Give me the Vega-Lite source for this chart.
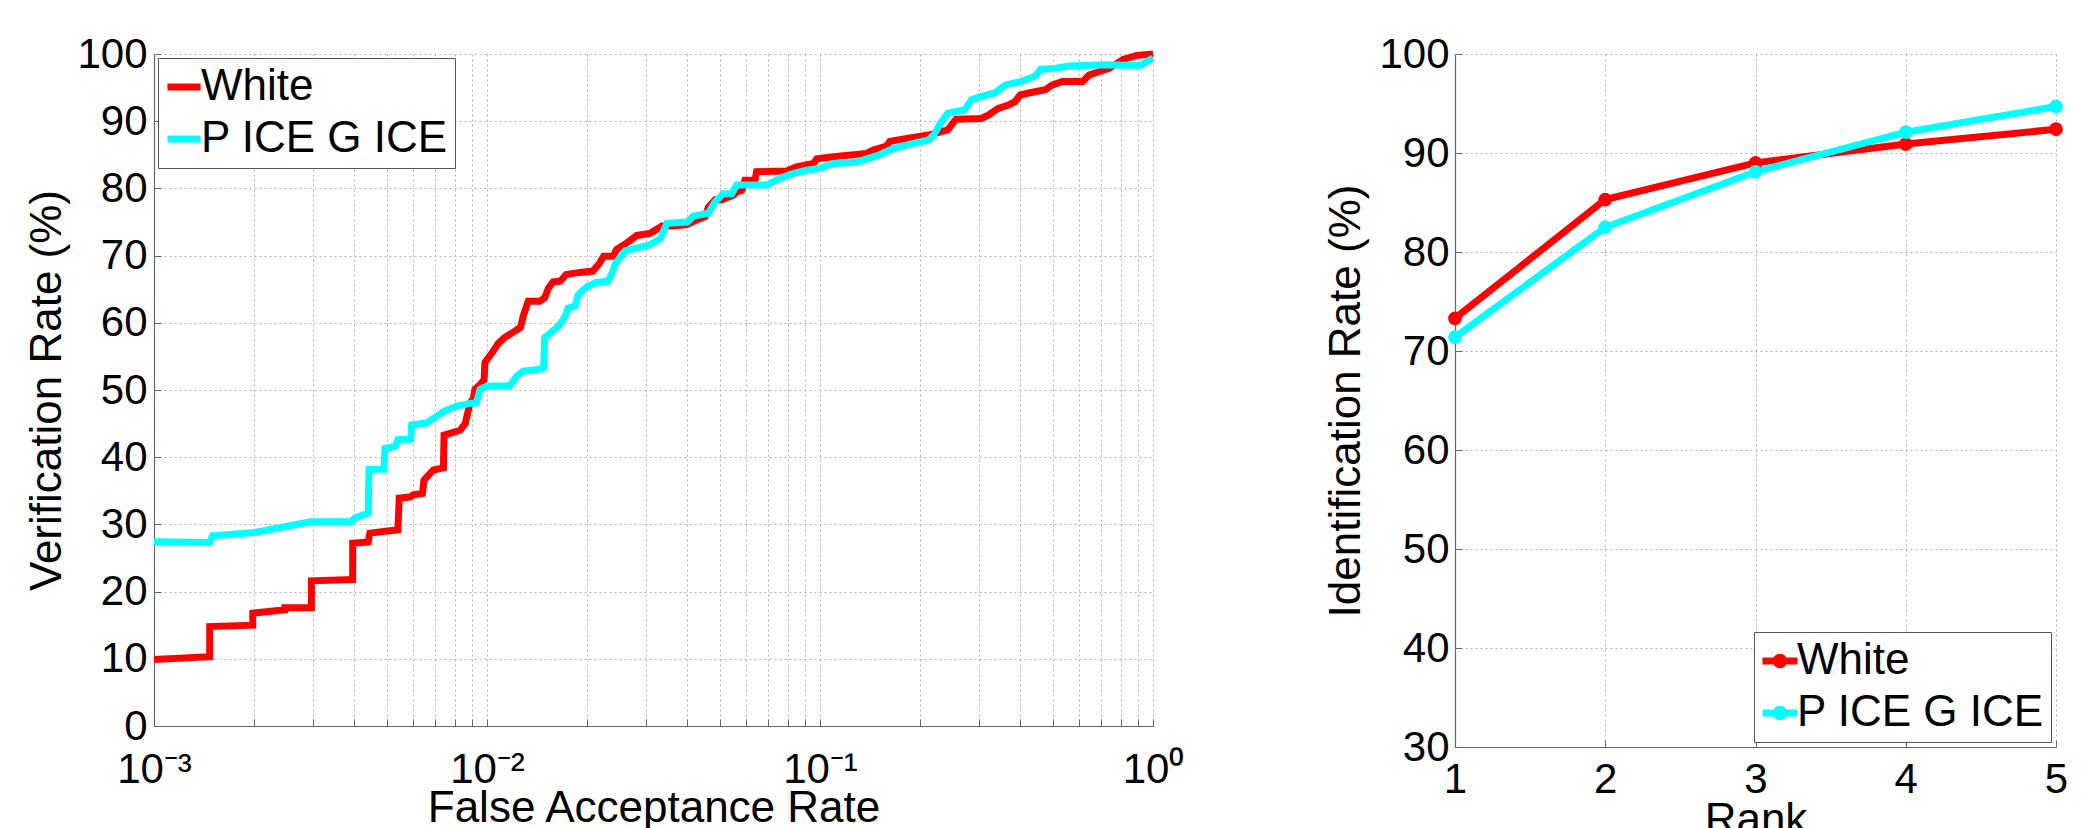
{
  "$schema": "https://vega.github.io/schema/vega-lite/v6.json",
  "background": "white",
  "padding": {"left": 25, "top": 33, "right": 0, "bottom": 0},
  "spacing": 140,
  "config": {
    "view": {"stroke": null},
    "font": "Liberation Sans",
    "axis": {
      "labelFont": "Liberation Sans",
      "labelFontSize": 42,
      "labelColor": "#000000",
      "titleFont": "Liberation Sans",
      "titleFontSize": 44,
      "titleFontWeight": "normal",
      "titleColor": "#000000",
      "domainColor": "#666666",
      "domainWidth": 1.2,
      "tickColor": "#666666",
      "tickSize": -7,
      "tickWidth": 1,
      "gridColor": "#b0b0b0",
      "gridDash": [2, 3],
      "gridWidth": 1,
      "labelFlush": false,
      "labelOverlap": false
    },
    "legend": {
      "labelFont": "Liberation Sans",
      "labelFontSize": 44,
      "labelColor": "#000000",
      "labelLimit": 600,
      "strokeColor": "#555555",
      "fillColor": "#ffffff",
      "padding": 7,
      "rowPadding": 8,
      "labelOffset": -5,
      "symbolOffset": -3,
      "symbolStrokeWidth": 7
    }
  },
  "datasets": {
    "roc": [
      {"series": "White", "i": 1, "far": 0.001, "vr": 9.9},
      {"series": "White", "i": 2, "far": 0.00147, "vr": 10.3},
      {"series": "White", "i": 3, "far": 0.00147, "vr": 14.8},
      {"series": "White", "i": 4, "far": 0.00198, "vr": 15.0},
      {"series": "White", "i": 5, "far": 0.00198, "vr": 16.8},
      {"series": "White", "i": 6, "far": 0.00247, "vr": 17.3},
      {"series": "White", "i": 7, "far": 0.00247, "vr": 17.6},
      {"series": "White", "i": 8, "far": 0.00297, "vr": 17.6},
      {"series": "White", "i": 9, "far": 0.00297, "vr": 21.6},
      {"series": "White", "i": 10, "far": 0.00395, "vr": 21.8},
      {"series": "White", "i": 11, "far": 0.00395, "vr": 27.2},
      {"series": "White", "i": 12, "far": 0.0044, "vr": 27.4},
      {"series": "White", "i": 13, "far": 0.00445, "vr": 28.7},
      {"series": "White", "i": 14, "far": 0.0054, "vr": 29.2},
      {"series": "White", "i": 15, "far": 0.00545, "vr": 33.9},
      {"series": "White", "i": 16, "far": 0.0059, "vr": 34.1},
      {"series": "White", "i": 17, "far": 0.006, "vr": 34.4},
      {"series": "White", "i": 18, "far": 0.0064, "vr": 34.6},
      {"series": "White", "i": 19, "far": 0.00647, "vr": 36.6},
      {"series": "White", "i": 20, "far": 0.0069, "vr": 38.1},
      {"series": "White", "i": 21, "far": 0.0074, "vr": 38.4},
      {"series": "White", "i": 22, "far": 0.00743, "vr": 43.3},
      {"series": "White", "i": 23, "far": 0.0083, "vr": 44.0},
      {"series": "White", "i": 24, "far": 0.0086, "vr": 45.0},
      {"series": "White", "i": 25, "far": 0.0089, "vr": 48.1},
      {"series": "White", "i": 26, "far": 0.0091, "vr": 48.7},
      {"series": "White", "i": 27, "far": 0.0092, "vr": 50.1},
      {"series": "White", "i": 28, "far": 0.00953, "vr": 50.8},
      {"series": "White", "i": 29, "far": 0.0098, "vr": 51.5},
      {"series": "White", "i": 30, "far": 0.00986, "vr": 54.1},
      {"series": "White", "i": 31, "far": 0.0102, "vr": 55.1},
      {"series": "White", "i": 32, "far": 0.01045, "vr": 55.8},
      {"series": "White", "i": 33, "far": 0.0108, "vr": 56.9},
      {"series": "White", "i": 34, "far": 0.0113, "vr": 57.8},
      {"series": "White", "i": 35, "far": 0.0119, "vr": 58.5},
      {"series": "White", "i": 36, "far": 0.0126, "vr": 59.3},
      {"series": "White", "i": 37, "far": 0.01285, "vr": 61.0},
      {"series": "White", "i": 38, "far": 0.0133, "vr": 63.2},
      {"series": "White", "i": 39, "far": 0.0144, "vr": 63.2},
      {"series": "White", "i": 40, "far": 0.0149, "vr": 63.7},
      {"series": "White", "i": 41, "far": 0.0153, "vr": 65.2},
      {"series": "White", "i": 42, "far": 0.0158, "vr": 66.1},
      {"series": "White", "i": 43, "far": 0.0166, "vr": 66.2},
      {"series": "White", "i": 44, "far": 0.0173, "vr": 67.2},
      {"series": "White", "i": 45, "far": 0.019, "vr": 67.5},
      {"series": "White", "i": 46, "far": 0.0208, "vr": 67.7},
      {"series": "White", "i": 47, "far": 0.0218, "vr": 68.9},
      {"series": "White", "i": 48, "far": 0.0224, "vr": 69.9},
      {"series": "White", "i": 49, "far": 0.0239, "vr": 69.9},
      {"series": "White", "i": 50, "far": 0.0245, "vr": 70.9},
      {"series": "White", "i": 51, "far": 0.0263, "vr": 71.9},
      {"series": "White", "i": 52, "far": 0.0282, "vr": 73.0},
      {"series": "White", "i": 53, "far": 0.0308, "vr": 73.3},
      {"series": "White", "i": 54, "far": 0.0323, "vr": 73.9},
      {"series": "White", "i": 55, "far": 0.0335, "vr": 74.4},
      {"series": "White", "i": 56, "far": 0.0363, "vr": 74.4},
      {"series": "White", "i": 57, "far": 0.0398, "vr": 74.6},
      {"series": "White", "i": 58, "far": 0.0426, "vr": 75.3},
      {"series": "White", "i": 59, "far": 0.0452, "vr": 75.8},
      {"series": "White", "i": 60, "far": 0.0462, "vr": 77.2},
      {"series": "White", "i": 61, "far": 0.0484, "vr": 78.3},
      {"series": "White", "i": 62, "far": 0.0507, "vr": 78.3},
      {"series": "White", "i": 63, "far": 0.055, "vr": 79.0},
      {"series": "White", "i": 64, "far": 0.0562, "vr": 79.5},
      {"series": "White", "i": 65, "far": 0.0582, "vr": 79.7},
      {"series": "White", "i": 66, "far": 0.0595, "vr": 81.2},
      {"series": "White", "i": 67, "far": 0.0638, "vr": 81.2},
      {"series": "White", "i": 68, "far": 0.0645, "vr": 82.5},
      {"series": "White", "i": 69, "far": 0.0794, "vr": 82.6},
      {"series": "White", "i": 70, "far": 0.085, "vr": 83.2},
      {"series": "White", "i": 71, "far": 0.0955, "vr": 83.7},
      {"series": "White", "i": 72, "far": 0.0978, "vr": 84.4},
      {"series": "White", "i": 73, "far": 0.1097, "vr": 84.7},
      {"series": "White", "i": 74, "far": 0.138, "vr": 85.2},
      {"series": "White", "i": 75, "far": 0.1445, "vr": 85.7},
      {"series": "White", "i": 76, "far": 0.1585, "vr": 86.3},
      {"series": "White", "i": 77, "far": 0.162, "vr": 87.0},
      {"series": "White", "i": 78, "far": 0.186, "vr": 87.5},
      {"series": "White", "i": 79, "far": 0.214, "vr": 88.0},
      {"series": "White", "i": 80, "far": 0.242, "vr": 88.7},
      {"series": "White", "i": 81, "far": 0.256, "vr": 90.3},
      {"series": "White", "i": 82, "far": 0.305, "vr": 90.4},
      {"series": "White", "i": 83, "far": 0.32, "vr": 90.9},
      {"series": "White", "i": 84, "far": 0.343, "vr": 91.9},
      {"series": "White", "i": 85, "far": 0.368, "vr": 92.4},
      {"series": "White", "i": 86, "far": 0.385, "vr": 92.9},
      {"series": "White", "i": 87, "far": 0.399, "vr": 93.9},
      {"series": "White", "i": 88, "far": 0.423, "vr": 94.2},
      {"series": "White", "i": 89, "far": 0.475, "vr": 94.7},
      {"series": "White", "i": 90, "far": 0.499, "vr": 95.4},
      {"series": "White", "i": 91, "far": 0.535, "vr": 95.9},
      {"series": "White", "i": 92, "far": 0.615, "vr": 95.9},
      {"series": "White", "i": 93, "far": 0.644, "vr": 96.9},
      {"series": "White", "i": 94, "far": 0.692, "vr": 97.4},
      {"series": "White", "i": 95, "far": 0.741, "vr": 97.9},
      {"series": "White", "i": 96, "far": 0.813, "vr": 99.2},
      {"series": "White", "i": 97, "far": 0.894, "vr": 99.8},
      {"series": "White", "i": 98, "far": 1.0, "vr": 100},
      {"series": "P ICE G ICE", "i": 1, "far": 0.001, "vr": 27.4},
      {"series": "P ICE G ICE", "i": 2, "far": 0.00147, "vr": 27.3},
      {"series": "P ICE G ICE", "i": 3, "far": 0.0015, "vr": 28.3},
      {"series": "P ICE G ICE", "i": 4, "far": 0.002, "vr": 28.8},
      {"series": "P ICE G ICE", "i": 5, "far": 0.00295, "vr": 30.4},
      {"series": "P ICE G ICE", "i": 6, "far": 0.0039, "vr": 30.4},
      {"series": "P ICE G ICE", "i": 7, "far": 0.004, "vr": 30.9},
      {"series": "P ICE G ICE", "i": 8, "far": 0.0044, "vr": 31.7},
      {"series": "P ICE G ICE", "i": 9, "far": 0.00442, "vr": 38.2},
      {"series": "P ICE G ICE", "i": 10, "far": 0.0049, "vr": 38.2},
      {"series": "P ICE G ICE", "i": 11, "far": 0.00494, "vr": 41.3},
      {"series": "P ICE G ICE", "i": 12, "far": 0.0053, "vr": 41.6},
      {"series": "P ICE G ICE", "i": 13, "far": 0.0054, "vr": 42.6},
      {"series": "P ICE G ICE", "i": 14, "far": 0.0059, "vr": 42.7},
      {"series": "P ICE G ICE", "i": 15, "far": 0.00594, "vr": 44.8},
      {"series": "P ICE G ICE", "i": 16, "far": 0.0066, "vr": 45.1},
      {"series": "P ICE G ICE", "i": 17, "far": 0.0074, "vr": 46.8},
      {"series": "P ICE G ICE", "i": 18, "far": 0.0081, "vr": 47.6},
      {"series": "P ICE G ICE", "i": 19, "far": 0.0089, "vr": 48.0},
      {"series": "P ICE G ICE", "i": 20, "far": 0.0093, "vr": 48.1},
      {"series": "P ICE G ICE", "i": 21, "far": 0.00953, "vr": 50.1},
      {"series": "P ICE G ICE", "i": 22, "far": 0.01, "vr": 50.6},
      {"series": "P ICE G ICE", "i": 23, "far": 0.0117, "vr": 50.6},
      {"series": "P ICE G ICE", "i": 24, "far": 0.0123, "vr": 52.1},
      {"series": "P ICE G ICE", "i": 25, "far": 0.01285, "vr": 52.8},
      {"series": "P ICE G ICE", "i": 26, "far": 0.0141, "vr": 53.0},
      {"series": "P ICE G ICE", "i": 27, "far": 0.0148, "vr": 53.3},
      {"series": "P ICE G ICE", "i": 28, "far": 0.0149, "vr": 57.8},
      {"series": "P ICE G ICE", "i": 29, "far": 0.0158, "vr": 58.8},
      {"series": "P ICE G ICE", "i": 30, "far": 0.0166, "vr": 59.8},
      {"series": "P ICE G ICE", "i": 31, "far": 0.0173, "vr": 61.3},
      {"series": "P ICE G ICE", "i": 32, "far": 0.0175, "vr": 62.2},
      {"series": "P ICE G ICE", "i": 33, "far": 0.0184, "vr": 62.5},
      {"series": "P ICE G ICE", "i": 34, "far": 0.0188, "vr": 64.2},
      {"series": "P ICE G ICE", "i": 35, "far": 0.02, "vr": 65.4},
      {"series": "P ICE G ICE", "i": 36, "far": 0.0213, "vr": 66.0},
      {"series": "P ICE G ICE", "i": 37, "far": 0.0231, "vr": 66.2},
      {"series": "P ICE G ICE", "i": 38, "far": 0.0239, "vr": 67.7},
      {"series": "P ICE G ICE", "i": 39, "far": 0.0242, "vr": 68.7},
      {"series": "P ICE G ICE", "i": 40, "far": 0.0251, "vr": 69.7},
      {"series": "P ICE G ICE", "i": 41, "far": 0.026, "vr": 70.7},
      {"series": "P ICE G ICE", "i": 42, "far": 0.0282, "vr": 71.1},
      {"series": "P ICE G ICE", "i": 43, "far": 0.0308, "vr": 71.6},
      {"series": "P ICE G ICE", "i": 44, "far": 0.0331, "vr": 72.5},
      {"series": "P ICE G ICE", "i": 45, "far": 0.0347, "vr": 74.8},
      {"series": "P ICE G ICE", "i": 46, "far": 0.04, "vr": 75.0},
      {"series": "P ICE G ICE", "i": 47, "far": 0.0417, "vr": 75.9},
      {"series": "P ICE G ICE", "i": 48, "far": 0.0462, "vr": 76.3},
      {"series": "P ICE G ICE", "i": 49, "far": 0.0484, "vr": 78.0},
      {"series": "P ICE G ICE", "i": 50, "far": 0.0512, "vr": 79.2},
      {"series": "P ICE G ICE", "i": 51, "far": 0.0543, "vr": 79.2},
      {"series": "P ICE G ICE", "i": 52, "far": 0.0562, "vr": 80.5},
      {"series": "P ICE G ICE", "i": 53, "far": 0.0692, "vr": 80.5},
      {"series": "P ICE G ICE", "i": 54, "far": 0.0724, "vr": 81.0},
      {"series": "P ICE G ICE", "i": 55, "far": 0.0776, "vr": 81.7},
      {"series": "P ICE G ICE", "i": 56, "far": 0.083, "vr": 82.2},
      {"series": "P ICE G ICE", "i": 57, "far": 0.0912, "vr": 82.7},
      {"series": "P ICE G ICE", "i": 58, "far": 0.1, "vr": 83.0},
      {"series": "P ICE G ICE", "i": 59, "far": 0.1097, "vr": 83.7},
      {"series": "P ICE G ICE", "i": 60, "far": 0.129, "vr": 83.9},
      {"series": "P ICE G ICE", "i": 61, "far": 0.1445, "vr": 84.7},
      {"series": "P ICE G ICE", "i": 62, "far": 0.151, "vr": 85.0},
      {"series": "P ICE G ICE", "i": 63, "far": 0.162, "vr": 85.7},
      {"series": "P ICE G ICE", "i": 64, "far": 0.174, "vr": 86.2},
      {"series": "P ICE G ICE", "i": 65, "far": 0.191, "vr": 86.7},
      {"series": "P ICE G ICE", "i": 66, "far": 0.212, "vr": 87.2},
      {"series": "P ICE G ICE", "i": 67, "far": 0.22, "vr": 88.0},
      {"series": "P ICE G ICE", "i": 68, "far": 0.23, "vr": 89.7},
      {"series": "P ICE G ICE", "i": 69, "far": 0.242, "vr": 91.2},
      {"series": "P ICE G ICE", "i": 70, "far": 0.272, "vr": 91.7},
      {"series": "P ICE G ICE", "i": 71, "far": 0.285, "vr": 93.2},
      {"series": "P ICE G ICE", "i": 72, "far": 0.305, "vr": 93.7},
      {"series": "P ICE G ICE", "i": 73, "far": 0.335, "vr": 94.2},
      {"series": "P ICE G ICE", "i": 74, "far": 0.36, "vr": 95.4},
      {"series": "P ICE G ICE", "i": 75, "far": 0.4, "vr": 95.9},
      {"series": "P ICE G ICE", "i": 76, "far": 0.443, "vr": 96.7},
      {"series": "P ICE G ICE", "i": 77, "far": 0.459, "vr": 97.7},
      {"series": "P ICE G ICE", "i": 78, "far": 0.51, "vr": 97.9},
      {"series": "P ICE G ICE", "i": 79, "far": 0.56, "vr": 98.2},
      {"series": "P ICE G ICE", "i": 80, "far": 0.708, "vr": 98.4},
      {"series": "P ICE G ICE", "i": 81, "far": 0.915, "vr": 98.3},
      {"series": "P ICE G ICE", "i": 82, "far": 0.96, "vr": 98.9},
      {"series": "P ICE G ICE", "i": 83, "far": 1.0, "vr": 99.4}
    ],
    "cmc": [
      {"series": "White", "rank": 1, "rate": 73.3},
      {"series": "White", "rank": 2, "rate": 85.3},
      {"series": "White", "rank": 3, "rate": 89.0},
      {"series": "White", "rank": 4, "rate": 90.9},
      {"series": "White", "rank": 5, "rate": 92.4},
      {"series": "P ICE G ICE", "rank": 1, "rate": 71.4},
      {"series": "P ICE G ICE", "rank": 2, "rate": 82.5},
      {"series": "P ICE G ICE", "rank": 3, "rate": 88.1},
      {"series": "P ICE G ICE", "rank": 4, "rate": 92.1},
      {"series": "P ICE G ICE", "rank": 5, "rate": 94.7}
    ]
  },
  "resolve": {"scale": {"color": "independent"}, "legend": {"color": "independent"}},
  "hconcat": [
    {
      "width": 999,
      "height": 672,
      "data": {"name": "roc"},
      "mark": {"type": "line", "strokeWidth": 7},
      "encoding": {
        "x": {
          "field": "far",
          "type": "quantitative",
          "scale": {"type": "log", "domain": [0.001, 1], "nice": false},
          "axis": {
            "title": "False Acceptance Rate",
            "values": [0.001, 0.002, 0.003, 0.004, 0.005, 0.006, 0.007, 0.008, 0.009, 0.01, 0.02, 0.03, 0.04, 0.05, 0.06, 0.07, 0.08, 0.09, 0.1, 0.2, 0.3, 0.4, 0.5, 0.6, 0.7, 0.8, 0.9, 1],
            "labelExpr": "datum.value == 0.001 ? '10⁻³' : datum.value == 0.01 ? '10⁻²' : datum.value == 0.1 ? '10⁻¹' : datum.value == 1 ? '10⁰' : ''",
            "labelPadding": 30,
            "titleY": 95,
            "titleBaseline": "alphabetic"
          }
        },
        "y": {
          "field": "vr",
          "type": "quantitative",
          "scale": {"domain": [0, 100], "nice": false},
          "axis": {
            "title": "Verification Rate (%)",
            "values": [0, 10, 20, 30, 40, 50, 60, 70, 80, 90, 100],
            "labelPadding": 14,
            "titleX": -94,
            "titleBaseline": "alphabetic"
          }
        },
        "color": {
          "field": "series",
          "type": "nominal",
          "scale": {"domain": ["White", "P ICE G ICE"], "range": ["#ff0000", "#00ffff"]},
          "legend": {
            "title": null,
            "orient": "top-left",
            "offset": 4,
            "symbolType": "stroke",
            "symbolSize": 1100
          }
        },
        "order": {"field": "i", "type": "quantitative"}
      }
    },
    {
      "width": 601,
      "height": 693,
      "data": {"name": "cmc"},
      "mark": {"type": "line", "strokeWidth": 7, "point": {"filled": true, "size": 190}},
      "encoding": {
        "x": {
          "field": "rank",
          "type": "quantitative",
          "scale": {"domain": [1, 5], "nice": false},
          "axis": {
            "title": "Rank",
            "values": [1, 2, 3, 4, 5],
            "format": "d",
            "labelPadding": 19,
            "titleY": 86,
            "titleBaseline": "alphabetic"
          }
        },
        "y": {
          "field": "rate",
          "type": "quantitative",
          "scale": {"domain": [30, 100], "nice": false, "zero": false},
          "axis": {
            "title": "Identification Rate (%)",
            "values": [30, 40, 50, 60, 70, 80, 90, 100],
            "labelPadding": 13,
            "titleX": -96,
            "titleBaseline": "alphabetic"
          }
        },
        "color": {
          "field": "series",
          "type": "nominal",
          "scale": {"domain": ["White", "P ICE G ICE"], "range": ["#ff0000", "#00ffff"]},
          "legend": {
            "title": null,
            "orient": "bottom-right",
            "offset": 5,
            "symbolType": "M-1,0L1,0M0.22,0A0.22,0.22,0,1,1,-0.22,0A0.22,0.22,0,1,1,0.22,0",
            "symbolSize": 1225
          }
        }
      }
    }
  ]
}
